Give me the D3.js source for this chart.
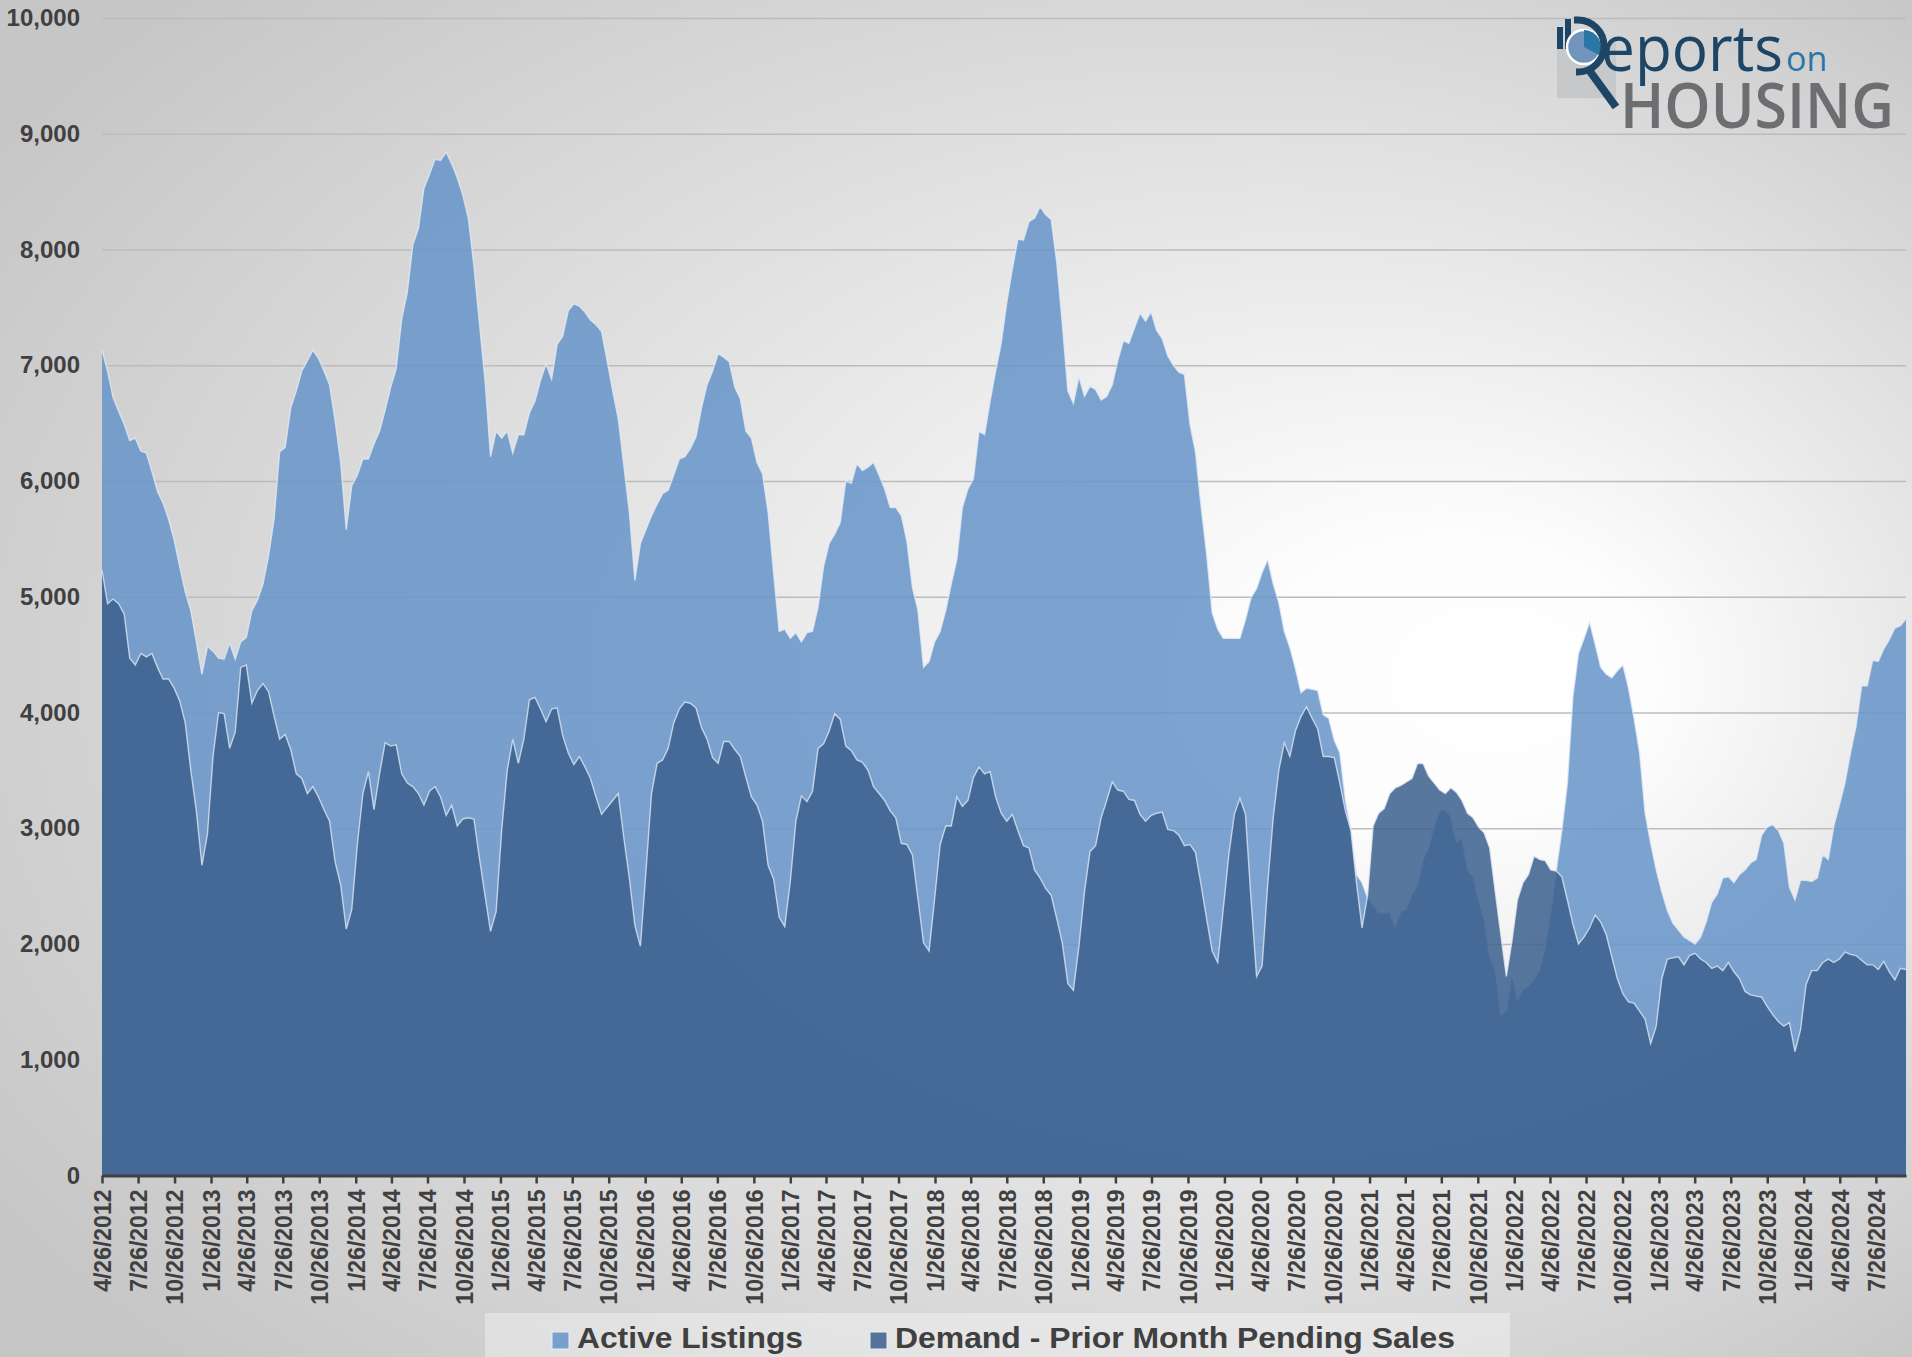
<!DOCTYPE html>
<html>
<head>
<meta charset="utf-8">
<script src="https://cdn.jsdelivr.net/npm/d3@7"></script>
<style>
body { margin: 0; background: #d0d0d0; overflow: hidden; }
svg { display: block; }
text { font-family: "Liberation Sans", Arial, sans-serif; }
</style>
</head>
<body>
<script>
// data: bi-weekly readings starting 4/26/2012
var startDate = new Date(2012, 3, 26),
    stepDays = 14;

var activeListings = [
    7130, 6950, 6720, 6600, 6490, 6350, 6370, 6260, 6240, 6080,
    5910, 5810, 5670, 5490, 5260, 5040, 4880, 4610, 4330, 4570,
    4530, 4470, 4460, 4600, 4460, 4610, 4650, 4880, 4970, 5110,
    5350, 5670, 6250, 6290, 6630, 6780, 6950, 7040, 7130, 7060,
    6950, 6830, 6520, 6160, 5580, 5960, 6050, 6190, 6190, 6320,
    6430, 6610, 6810, 6970, 7400,
    7630, 8040, 8180, 8530, 8650, 8780, 8770, 8840, 8740, 8620,
    8470, 8270, 7860, 7360, 6870, 6210, 6430, 6370, 6430, 6240,
    6400, 6400, 6590, 6690, 6870, 7010, 6880, 7180, 7250, 7470,
    7530, 7510, 7460, 7390, 7350, 7290, 7040, 6780, 6540, 6140,
    5730, 5140, 5460, 5580, 5700, 5800, 5890, 5920, 6050, 6190,
    6210, 6280, 6380, 6630,
    6830, 6950, 7100, 7070, 7030, 6810, 6710, 6430, 6370, 6160,
    6060, 5730, 5200, 4700, 4720, 4640, 4690, 4610, 4690, 4700,
    4910, 5260, 5460, 5540, 5640, 6000, 5980, 6150, 6090, 6120,
    6160, 6050, 5930, 5770, 5770, 5700, 5480, 5080, 4880, 4390,
    4440, 4610, 4700, 4880, 5110, 5320, 5770, 5930, 6020, 6430,
    6400, 6690, 6950, 7190,
    7540, 7830, 8090, 8080, 8240, 8270, 8370, 8300, 8260, 7890,
    7360, 6780, 6670, 6900, 6730, 6820, 6790, 6700, 6730, 6830,
    7040, 7210, 7190, 7320, 7450, 7380, 7460, 7300, 7230, 7080,
    7000, 6940, 6920, 6490, 6250, 5780, 5370, 4860, 4720, 4640,
    4640, 4640, 4640, 4800, 4990, 5070, 5210, 5320, 5110, 4950,
    4700, 4560, 4380, 4170,
    4210, 4200, 4190, 3980, 3950, 3760, 3650, 3240, 2980, 2600,
    2530, 2400, 2340, 2270, 2270, 2270, 2150, 2280, 2300, 2430,
    2510, 2730, 2830, 3020, 3150, 3160, 3100, 2880, 2920, 2640,
    2580, 2380, 2210, 1890, 1780, 1390, 1420, 1740, 1520, 1610,
    1640, 1700, 1780, 1970, 2270, 2640, 2980, 3390, 4140, 4510,
    4640, 4780, 4590, 4390,
    4330, 4300, 4360, 4410, 4210, 3950, 3650, 3130, 2870, 2640,
    2450, 2290, 2180, 2120, 2060, 2030, 2000, 2060, 2190, 2360,
    2430, 2570, 2580, 2530, 2600, 2640, 2700, 2730, 2940, 3010,
    3030, 2980, 2870, 2490, 2380, 2550, 2550, 2540, 2570, 2770,
    2730, 3020, 3200, 3390, 3650, 3880, 4230, 4230, 4450, 4440,
    4550, 4630, 4730, 4750, 4810
];

var pendingDemand = [
    5230, 4940, 4980, 4940, 4850, 4470, 4410, 4510, 4480, 4510,
    4390, 4290, 4290, 4210, 4100, 3910, 3500, 3150, 2680, 2950,
    3620, 4000, 3990, 3690, 3830, 4390, 4410, 4080, 4190, 4250,
    4180, 3970, 3770, 3810, 3680, 3470, 3430, 3300, 3360, 3270,
    3160, 3060, 2710, 2510, 2130, 2300, 2860, 3300, 3490, 3160,
    3470, 3740, 3710, 3720, 3470,
    3390, 3360, 3300, 3200, 3320, 3360, 3270, 3110, 3200, 3020,
    3080, 3090, 3080, 2740, 2420, 2110, 2280, 2980, 3500, 3770,
    3560, 3770, 4110, 4130, 4030, 3920, 4030, 4040, 3800, 3650,
    3550, 3620, 3530, 3430, 3270, 3120, 3180, 3240, 3300, 2920,
    2570, 2160, 1980, 2630, 3300, 3560, 3590, 3690, 3910, 4030,
    4090, 4080, 4040, 3870,
    3770, 3610, 3560, 3750, 3750, 3680, 3620, 3440, 3270, 3200,
    3060, 2680, 2560, 2230, 2150, 2540, 3060, 3280, 3230, 3320,
    3690, 3730, 3840, 3990, 3940, 3710, 3670, 3590, 3570, 3500,
    3360, 3300, 3240, 3150, 3090, 2870, 2860, 2770, 2390, 2010,
    1940, 2390, 2860, 3020, 3020, 3270, 3190, 3240, 3440, 3530,
    3470, 3490, 3270, 3130,
    3060, 3120, 2980, 2850, 2830, 2640, 2570, 2480, 2420, 2220,
    2010, 1660, 1600, 1980, 2450, 2800, 2850, 3090, 3240, 3400,
    3330, 3320, 3250, 3240, 3120, 3060, 3110, 3130, 3140, 2990,
    2980, 2940, 2850, 2860, 2790, 2510, 2220, 1940, 1840, 2300,
    2770, 3120, 3260, 3120, 2390, 1720, 1810, 2510, 3090, 3500,
    3740, 3620, 3840, 3965,
    4050, 3950, 3860, 3620, 3620, 3610, 3390, 3150, 2980, 2530,
    2140, 2420, 3020, 3130, 3170, 3300, 3350, 3370, 3400, 3430,
    3560, 3560, 3450, 3390, 3330, 3300, 3350, 3310, 3240, 3130,
    3090, 3010, 2960, 2830, 2450, 2080, 1720, 2020, 2380, 2530,
    2600, 2760, 2730, 2720, 2640, 2630, 2580, 2380, 2170, 2000,
    2060, 2140, 2250, 2190,
    2080, 1890, 1700, 1570, 1500, 1490, 1420, 1350, 1140, 1290,
    1700, 1870, 1880, 1890, 1820, 1900, 1920, 1870, 1840, 1790,
    1810, 1770, 1840, 1760, 1700, 1590, 1560, 1550, 1540, 1460,
    1390, 1330, 1290, 1320, 1070, 1260, 1650, 1770, 1770, 1840,
    1870, 1840, 1870, 1930, 1910, 1900, 1860, 1820, 1820, 1780,
    1850, 1760, 1690, 1790, 1780
];

var yTicks = [0, 1000, 2000, 3000, 4000, 5000, 6000, 7000, 8000, 9000, 10000];
var tickCount = 50; // quarterly ticks 4/26/2012 .. 7/26/2024
var seriesNames = ['Active Listings', 'Demand - Prior Month Pending Sales'];
var seriesColors = ['#6894c8', '#3d618e'];

/**************************************/

var width     = 1912,
    height    = 1357,
    plotLeft  = 102,
    plotRight = 1906,
    plotTop   = 18,
    plotBot   = 1175.5;

var dates = activeListings.map(function(d, i) { return d3.timeDay.offset(startDate, i * stepDays); });
var tickDates = d3.range(tickCount).map(function(k) { return d3.timeMonth.offset(startDate, k * 3); });

var x = d3.scaleTime()
    .domain([dates[0], dates[dates.length - 1]])
    .range([plotLeft, plotRight]);

var y = d3.scaleLinear()
    .domain([0, 10000])
    .range([plotBot, plotTop]);

var svg = d3.select('body')
    .append('svg')
    .attr('width', width)
    .attr('height', height);

// background
var defs = svg.append('defs');
var bg = defs.append('radialGradient')
    .attr('id', 'bg')
    .attr('cx', 0.55).attr('cy', 0.5).attr('r', 0.68)
    .attr('fx', 0.8).attr('fy', 0.5);
bg.append('stop').attr('offset', 0).attr('stop-color', '#ffffff');
bg.append('stop').attr('offset', 0.15).attr('stop-color', '#fdfdfd');
bg.append('stop').attr('offset', 0.5).attr('stop-color', '#e6e6e6');
bg.append('stop').attr('offset', 0.8).attr('stop-color', '#d3d3d3');
bg.append('stop').attr('offset', 1).attr('stop-color', '#c6c6c6');

svg.append('rect')
    .attr('width', width)
    .attr('height', height)
    .attr('fill', 'url(#bg)');

// gridlines + y labels
var yAxis = svg.append('g')
    .attr('transform', 'translate(' + plotLeft + ',0)')
    .call(d3.axisLeft(y)
        .tickValues(yTicks)
        .tickSize(-(plotRight - plotLeft))
        .tickPadding(22)
        .tickFormat(d3.format(',')));
yAxis.select('.domain').remove();
yAxis.selectAll('line')
    .attr('stroke', '#bcbcbc')
    .attr('stroke-width', 1.5);
yAxis.selectAll('text')
    .attr('fill', '#404040')
    .style('font-size', '24px')
    .style('font-weight', 'bold');

// areas
var series = [activeListings, pendingDemand];

var area = d3.area()
    .x(function(d, i) { return x(dates[i]); })
    .y0(y(0))
    .y1(function(d) { return y(d); });

var line = d3.line()
    .x(function(d, i) { return x(dates[i]); })
    .y(function(d) { return y(d); });

series.forEach(function(s, k) {
    svg.append('path')
        .attr('d', area(s))
        .attr('fill', seriesColors[k])
        .attr('fill-opacity', 0.86);
    svg.append('path')
        .attr('d', line(s))
        .attr('fill', 'none')
        .attr('stroke', '#e4ecf6')
        .attr('stroke-opacity', 0.75)
        .attr('stroke-width', 1.4);
});

// x axis
var xAxis = svg.append('g')
    .attr('transform', 'translate(0,' + plotBot + ')')
    .call(d3.axisBottom(x)
        .tickValues(tickDates)
        .tickSize(8)
        .tickSizeOuter(0)
        .tickFormat(d3.timeFormat('%-m/%-d/%Y')));
xAxis.select('.domain')
    .attr('stroke', '#404040')
    .attr('stroke-width', 3);
xAxis.selectAll('line')
    .attr('stroke', '#404040')
    .attr('stroke-width', 2.5);
xAxis.selectAll('text')
    .attr('transform', 'rotate(-90)')
    .attr('text-anchor', 'end')
    .attr('x', -14)
    .attr('y', 0)
    .attr('dy', '0.36em')
    .attr('fill', '#404040')
    .style('font-size', '23px')
    .style('font-weight', 'bold');

// legend
var legend = svg.append('g');
legend.append('rect')
    .attr('x', 485).attr('y', 1313)
    .attr('width', 1025).attr('height', 44)
    .attr('fill', '#ffffff')
    .attr('fill-opacity', 0.35);

var legendX = [552, 870],
    legendW = [226, 560];
seriesNames.forEach(function(name, k) {
    legend.append('rect')
        .attr('x', legendX[k]).attr('y', 1332)
        .attr('width', 17).attr('height', 17)
        .attr('fill', seriesColors[k])
        .attr('fill-opacity', 0.86)
        .attr('stroke', '#e8eef6')
        .attr('stroke-width', 1);
    legend.append('text')
        .attr('x', legendX[k] + 25).attr('y', 1348)
        .attr('textLength', legendW[k])
        .attr('lengthAdjust', 'spacingAndGlyphs')
        .attr('fill', '#404040')
        .style('font-size', '30px')
        .style('font-weight', 'bold')
        .text(name);
});

// logo
var navy = '#1d4566';
var logo = svg.append('g');
logo.append('rect')
    .attr('x', 1557).attr('y', 43)
    .attr('width', 59).attr('height', 55)
    .attr('fill', '#c6c8ca');
[[1557, 27, 6, 22], [1565, 19, 6, 30]].forEach(function(b) {
    logo.append('rect')
        .attr('x', b[0]).attr('y', b[1])
        .attr('width', b[2]).attr('height', b[3])
        .attr('fill', navy);
});
logo.append('circle')
    .attr('cx', 1584).attr('cy', 47).attr('r', 17)
    .attr('fill', '#7094bb')
    .attr('stroke', '#ffffff')
    .attr('stroke-width', 2.5);
logo.append('path')
    .attr('d', 'M1584,47 L1584,30 A17,17 0 0 1 1599,55 Z')
    .attr('fill', '#2a77a6');
logo.append('path')
    .attr('d', 'M1574,20 H1578 A25,25 0 0 1 1578,72 H1576')
    .attr('fill', 'none')
    .attr('stroke', navy)
    .attr('stroke-width', 7);
logo.append('line')
    .attr('x1', 1589).attr('y1', 70)
    .attr('x2', 1616).attr('y2', 107)
    .attr('stroke', navy)
    .attr('stroke-width', 8);
logo.append('text')
    .attr('x', 1601).attr('y', 71)
    .attr('textLength', 182)
    .attr('lengthAdjust', 'spacingAndGlyphs')
    .attr('fill', navy)
    .style('font-family', '"Open Sans", sans-serif')
    .style('font-size', '64px')
    .text('eports');
logo.append('text')
    .attr('x', 1786).attr('y', 71)
    .attr('fill', '#2a77a6')
    .style('font-family', '"Open Sans", sans-serif')
    .style('font-size', '34px')
    .text('on');
logo.append('text')
    .attr('x', 1620).attr('y', 128)
    .attr('textLength', 274)
    .attr('lengthAdjust', 'spacingAndGlyphs')
    .attr('fill', '#6d6e71')
    .style('font-family', '"Open Sans", sans-serif')
    .style('font-weight', 600)
    .style('font-size', '64px')
    .text('HOUSING');
</script>
</body>
</html>
